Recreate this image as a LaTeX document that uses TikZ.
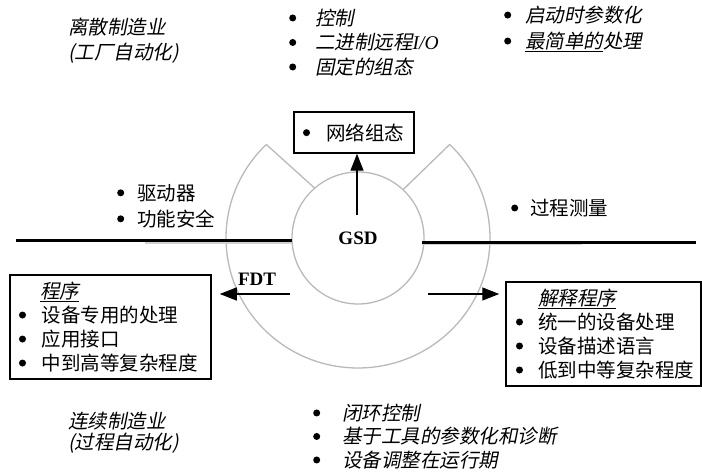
\documentclass[tikz,border=0pt]{standalone}
\usepackage{fontspec}
\setmainfont{Liberation Serif}
\newfontfamily\cjk{Noto Sans CJK SC}
\newfontfamily\cjkit[FakeSlant=0.2]{Noto Sans CJK SC}
\usetikzlibrary{arrows.meta, calc}

% bullet item, #1 = distance from bullet to text
\newcommand{\bul}{\tikz[baseline={(0,-7.4pt)}]\fill (0,0) circle[radius=3.5pt];}
\newcommand{\itm}[2][22pt]{\makebox[#1][l]{\bul}#2}

\begin{document}
\begin{tikzpicture}[x=1pt, y=1pt,
    txt/.style={inner sep=0pt, anchor=west, align=left, font=\cjk\fontsize{19.5}{24}\selectfont},
    ring/.style={draw=gray!55, line width=1.3pt},
    bus/.style={line width=2.6pt},
    shade/.style={draw=gray!35, line width=2pt},
    box/.style={draw, line width=1.5pt, inner ysep=0pt, align=left, font=\cjk\fontsize{19.5}{24}\selectfont},
    arr/.style={line width=1.4pt, -{Triangle[length=17pt, width=13pt]}},
    lbl/.style={font=\fontsize{19}{19}\selectfont\bfseries, inner sep=0pt}]

  \useasboundingbox (0,0) rectangle (702,473);

  % Define coordinates
  \coordinate (C) at (358,235);
  \coordinate (busL) at (16,232.3);
  \coordinate (busLe) at (292,232.3);
  \coordinate (busR) at (422,230.7);
  \coordinate (busRe) at (696,230.7);
  \coordinate (shL) at (145,230.4);
  \coordinate (shR) at (582,228.8);
  \coordinate (up) at (357,258);
  \coordinate (fdtL) at (290,179);
  \coordinate (fdtR) at (428,179);
  \path (C) ++(46:132 and 130) coordinate (oR);
  \path (C) ++(134:132 and 130) coordinate (oL);
  \path (C) ++(47:66) coordinate (iR);
  \path (C) ++(131:66) coordinate (iL);

  % ring with the notch on top
  \draw[ring] (oR) arc[start angle=46, end angle=-226, x radius=132, y radius=130];
  \draw[ring] (C) circle[radius=66];
  \draw[ring] (oL) -- (iL);
  \draw[ring] (oR) -- (iR);

  % the bus
  \draw[shade] (shL) -- (shL -| busLe);
  \draw[shade] (shR) -- (shR -| busR);
  \draw[bus] (busL) -- (busLe);
  \draw[bus] (busR) -- (busRe);

  \node[lbl] (gsd) at (C) {GSD};
  \node[lbl] (fdt) at (257,194) {FDT};

  % boxes
  \node[box, minimum width=120pt, minimum height=41pt, text width=102pt, inner xsep=9pt] (netcfg) at (354,340.5)
    {\itm[23pt]{网络组态}};
  \node[box, minimum width=201pt, minimum height=104pt, text width=183pt, inner xsep=9pt] (program) at (110.5,146)
    {\hspace*{21pt}{\cjkit\underline{程序}}\\ \itm[23pt]{设备专用的处理}\\ \itm[23pt]{应用接口}\\ \itm[23pt]{中到高等复杂程度}};
  \node[box, minimum width=195pt, minimum height=104pt, text width=175pt, inner xsep=10pt] (interp) at (603.5,139)
    {\hspace*{22pt}{\cjkit\underline{解释程序}}\\ \itm{统一的设备处理}\\ \itm{设备描述语言}\\ \itm{低到中等复杂程度}};

  \draw[arr] (up) -- (up |- netcfg.south);
  \draw[arr, shorten >=8pt] (fdtL) -- (fdtL -| program.east);
  \draw[arr, shorten >=6pt] (fdtR) -- (fdtR -| interp.west);

  % texts round the ring
  \node[txt, font=\cjkit\fontsize{19.5}{25}\selectfont] (discrete) at (68,432.5) {离散制造业\\(工厂自动化)};
  \node[txt, font=\cjkit\fontsize{19.5}{24.5}\selectfont] (tasks) at (289,430.5)
    {\itm[26pt]{控制}\\ \itm[26pt]{二进制远程{\rmfamily\itshape I/O}}\\ \itm[26pt]{固定的组态}};
  \node[txt, font=\cjkit\fontsize{19.5}{26}\selectfont] (startup) at (504,444)
    {\itm[21pt]{启动时参数化}\\ \itm[21pt]{\underline{最简单的}处理}};
  \node[txt, font=\cjk\fontsize{19.5}{26}\selectfont] (drives) at (117,267)
    {\itm[20pt]{驱动器}\\ \itm[20pt]{功能安全}};
  \node[txt] (measure) at (511,265) {\itm[19pt]{过程测量}};
  \node[txt, font=\cjkit\fontsize{19.5}{21.5}\selectfont] (continuous) at (68,40.5) {连续制造业\\(过程自动化)};
  \node[txt, font=\cjkit\fontsize{19.5}{23.5}\selectfont] (loop) at (313,36.5)
    {\itm[29pt]{闭环控制}\\ \itm[29pt]{基于工具的参数化和诊断}\\ \itm[29pt]{设备调整在运行期}};

\end{tikzpicture}
\end{document}
